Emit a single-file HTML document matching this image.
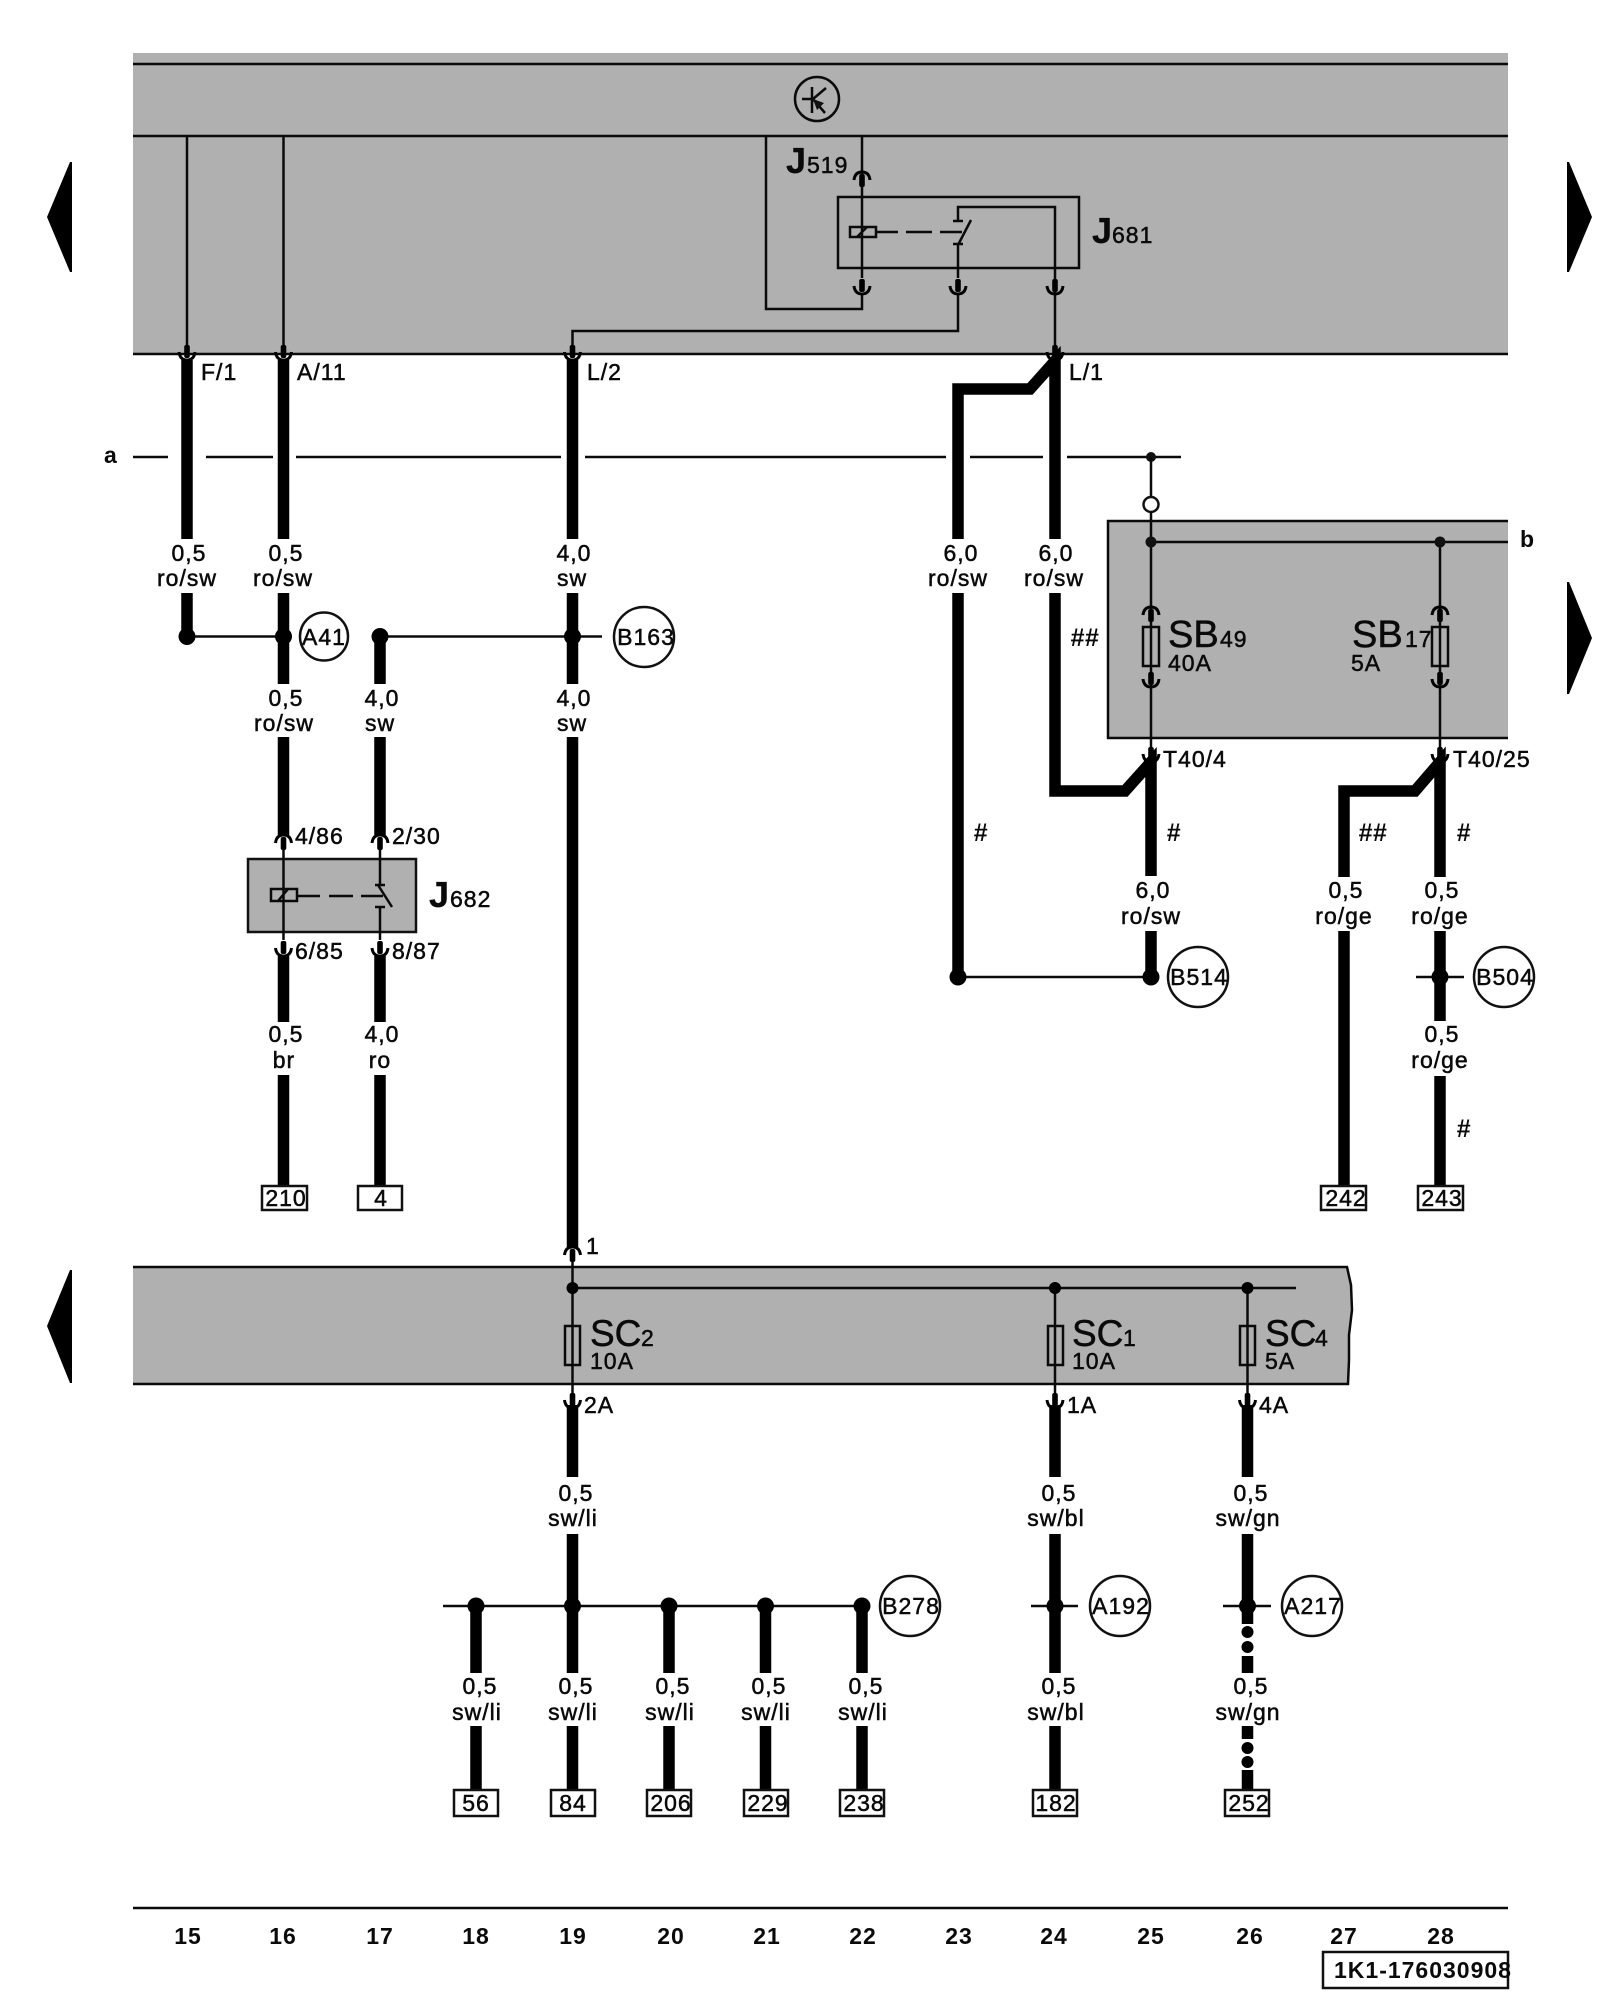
<!DOCTYPE html>
<html><head><meta charset="utf-8"><style>
html,body{margin:0;padding:0;background:#fff}
svg{display:block}
text{font-family:"Liberation Sans",Arial,sans-serif;font-size:23px;fill:#0a0a0a;stroke:#0a0a0a;stroke-width:.5;letter-spacing:1px}
.m{text-anchor:middle}
.b{font-weight:bold;stroke-width:0}
.big{font-size:38px;letter-spacing:0;stroke-width:.5}
.j{font-size:36px;font-weight:bold;letter-spacing:0;stroke-width:.3}
.t{fill:none;stroke:#0a0a0a;stroke-width:2.5}
.w{fill:none;stroke:#000;stroke-width:11.5}
.g{fill:#b0b0b0;stroke:none}
.box{fill:#fff;stroke:#111;stroke-width:2.5}
.c{fill:none;stroke:#111;stroke-width:2.5}
.h{font-size:25px;font-weight:bold;stroke-width:0;letter-spacing:.5px}
</style></head><body>
<svg width="1600" height="2000" viewBox="0 0 1600 2000" xmlns="http://www.w3.org/2000/svg">
<defs>
<g id="up"><path d="M-8 8Q-7 0 0 0Q7 0 8 8" fill="none" stroke="#000" stroke-width="3"/><rect x="-2.8" y="2" width="5.6" height="13" rx="2" fill="#000"/></g>
<g id="dn"><path d="M-8 -8Q-7 0 0 0Q7 0 8 -8" fill="none" stroke="#000" stroke-width="3"/><rect x="-2.8" y="-15" width="5.6" height="13" rx="2" fill="#000"/></g>
</defs>
<rect width="1600" height="2000" fill="#fff"/>

<!-- gray bands -->
<rect class="g" x="133" y="53" width="1375" height="301"/>
<path class="t" d="M133 64H1508M133 136H1508M133 354H1508"/>
<path d="M1108 521H1508V738H1108Z" class="g"/>
<path class="t" d="M1508 521H1108V738H1508"/>
<path d="M133 1267H1347L1351 1285L1352 1310L1349 1335L1349 1360L1348 1384H133Z" class="g"/>
<path class="t" d="M133 1267H1347L1351 1285L1352 1310L1349 1335L1349 1360L1348 1384H133"/>

<!-- nav arrows -->
<path d="M47 217L70 162H72V272H70Z" fill="#000"/>
<path d="M1592 217L1569 162H1567V272H1569Z" fill="#000"/>
<path d="M1592 638L1569 582H1567V694H1569Z" fill="#000"/>
<path d="M47 1326L70 1270H72V1383H70Z" fill="#000"/>

<!-- ground symbol -->
<circle class="t" cx="817" cy="99" r="22"/>
<path class="t" d="M802 99H813M812 87V113M813 99L826 88M813 99L825 113"/>
<path d="M813 99L824 103L817 110Z" fill="#111"/>

<!-- thin wiring top -->
<path class="t" d="M187 136V348M283.5 136V348"/>
<path class="t" d="M862 136V278M862 294V309H766V136"/>
<path class="t" d="M572.5 350V331H958V294M958 278V244M953 244H963M958 245L971 220M953 221H963M958 221V207H1055V350"/>
<rect class="t" x="838" y="197" width="241" height="71"/>
<rect class="t" x="850" y="227" width="26" height="10"/>
<path class="t" d="M857 237L867 227M876 232H898M906 232H932M940 232H962"/>
<use href="#up" x="862" y="172"/><use href="#dn" x="862" y="294"/><use href="#dn" x="958" y="294"/><use href="#dn" x="1055" y="294"/>
<use href="#dn" x="187" y="360"/><use href="#dn" x="283.5" y="360"/><use href="#dn" x="572.5" y="360"/><use href="#dn" x="1055" y="360"/>
<text class="j" x="786" y="173">J</text><text x="807" y="173">519</text>
<text class="j" x="1092" y="243">J</text><text x="1112" y="243">681</text>
<text x="201" y="380">F/1</text><text x="297" y="380">A/11</text><text x="587" y="380">L/2</text><text x="1069" y="380">L/1</text>

<!-- a line -->
<text class="b" x="104" y="463">a</text>
<path class="t" d="M133 457H168M206 457H273M296 457H561M585 457H946M970 457H1043M1067 457H1181"/>
<circle cx="1151" cy="457" r="5" fill="#111"/>
<path class="t" d="M1151 457V497"/>
<circle cx="1151" cy="504.5" r="7.5" fill="#fff" stroke="#111" stroke-width="2.5"/>

<!-- SB box -->
<path class="t" d="M1151 512V748M1440 542V748M1151 542H1508"/>
<circle cx="1151" cy="542" r="5.5" fill="#111"/><circle cx="1440" cy="542" r="5.5" fill="#111"/>
<rect class="t" x="1143" y="627" width="16" height="39"/><rect class="t" x="1432" y="627" width="16" height="39"/>
<use href="#up" x="1151" y="607"/><use href="#dn" x="1151" y="687"/><use href="#up" x="1440" y="607"/><use href="#dn" x="1440" y="687"/>
<use href="#dn" x="1151" y="762"/><use href="#dn" x="1440" y="762"/>
<text class="big" x="1168" y="647">SB</text><text x="1220" y="647">49</text><text x="1168" y="671">40A</text>
<text class="big" x="1352" y="647">SB</text><text x="1405" y="647">17</text><text x="1351" y="671">5A</text>
<text class="b" x="1520" y="547">b</text>
<text x="1163" y="767">T40/4</text><text x="1453" y="767">T40/25</text>

<!-- thick wires top -->
<path class="w" d="M187 360V539M187 593V636"/>
<path class="w" d="M283.5 360V539M283.5 593V684M283.5 737V835"/>
<path class="w" d="M380 636V684M380 737V835"/>
<path class="w" d="M572.5 360V539M572.5 593V684M572.5 737V1247"/>
<path class="w" d="M958 539V389H1030L1055 361V539"/>
<path class="w" d="M958 593V977"/>
<path class="w" d="M1055 593V791H1125L1151 762V876"/>
<path class="w" d="M1151 931V977"/>
<path class="w" d="M1344 877V791H1415L1440 762V877"/>
<path class="w" d="M1344 931V1186"/>
<path class="w" d="M1440 931V1021M1440 1076V1186"/>
<path class="w" d="M283.5 956V1022M283.5 1075V1186M380 956V1022M380 1075V1186"/>

<!-- junctions -->
<path class="t" d="M187 636.5H283.5M380 636.5H602M958 977H1151M1416 977H1464"/>
<g fill="#000"><circle cx="187" cy="636.5" r="8.5"/><circle cx="283.5" cy="636.5" r="8.5"/><circle cx="380" cy="636.5" r="8.5"/><circle cx="572.5" cy="636.5" r="8.5"/><circle cx="958" cy="977" r="8.5"/><circle cx="1151" cy="977" r="8.5"/><circle cx="1440" cy="977" r="8.5"/></g>
<circle class="c" cx="324" cy="636.5" r="24"/><text class="m" x="324" y="645">A41</text>
<circle class="c" cx="644" cy="637" r="30"/><text class="m" x="646" y="645">B163</text>
<circle class="c" cx="1198" cy="977" r="30"/><text class="m" x="1199" y="985">B514</text>
<circle class="c" cx="1504" cy="977" r="30"/><text class="m" x="1505" y="985">B504</text>

<!-- J682 -->
<rect x="248" y="859" width="168" height="73" fill="#b0b0b0" stroke="#111" stroke-width="2.5"/>
<path class="t" d="M283.5 849V940M380 849V885M380 907V940"/>
<rect class="t" x="271" y="889" width="26" height="12"/>
<path class="t" d="M278 901L288 889M297 896H320M329 896H353M361 896H383M375 885H385M378 885L392 907M375 907H385"/>
<use href="#up" x="283.5" y="835"/><use href="#up" x="380" y="835"/><use href="#dn" x="283.5" y="956"/><use href="#dn" x="380" y="956"/>
<text class="j" x="429" y="907">J</text><text x="450" y="907">682</text>
<text x="295" y="844">4/86</text><text x="392" y="844">2/30</text><text x="295" y="959">6/85</text><text x="392" y="959">8/87</text>

<!-- wire labels upper -->
<text class="m" x="189" y="561">0,5</text><text class="m" x="187" y="586">ro/sw</text>
<text class="m" x="286" y="561">0,5</text><text class="m" x="283" y="586">ro/sw</text>
<text class="m" x="574" y="561">4,0</text><text class="m" x="572" y="586">sw</text>
<text class="m" x="961" y="561">6,0</text><text class="m" x="958" y="586">ro/sw</text>
<text class="m" x="1056" y="561">6,0</text><text class="m" x="1054" y="586">ro/sw</text>
<text class="m" x="286" y="706">0,5</text><text class="m" x="284" y="731">ro/sw</text>
<text class="m" x="382" y="706">4,0</text><text class="m" x="380" y="731">sw</text>
<text class="m" x="574" y="706">4,0</text><text class="m" x="572" y="731">sw</text>
<text class="m" x="1153" y="898">6,0</text><text class="m" x="1151" y="924">ro/sw</text>
<text class="m" x="1346" y="898">0,5</text><text class="m" x="1344" y="924">ro/ge</text>
<text class="m" x="1442" y="898">0,5</text><text class="m" x="1440" y="924">ro/ge</text>
<text class="m" x="1442" y="1042">0,5</text><text class="m" x="1440" y="1068">ro/ge</text>
<text class="m" x="286" y="1042">0,5</text><text class="m" x="284" y="1068">br</text>
<text class="m" x="382" y="1042">4,0</text><text class="m" x="380" y="1068">ro</text>
<text class="h m" x="1085" y="646">##</text>
<text class="h m" x="981" y="841">#</text><text class="h m" x="1174" y="841">#</text>
<text class="h m" x="1373" y="841">##</text><text class="h m" x="1464" y="841">#</text><text class="h m" x="1464" y="1137">#</text>

<!-- boxes mid -->
<rect class="box" x="262" y="1186" width="45" height="24"/><text class="m" x="286" y="1206">210</text>
<rect class="box" x="358" y="1186" width="44" height="24"/><text class="m" x="381" y="1206">4</text>
<rect class="box" x="1321" y="1186" width="45" height="24"/><text class="m" x="1346" y="1206">242</text>
<rect class="box" x="1418" y="1186" width="45" height="24"/><text class="m" x="1442" y="1206">243</text>

<!-- lower band -->
<path class="t" d="M572.5 1260V1394M1055 1288V1394M1247.5 1288V1394M572.5 1288H1296"/>
<g fill="#000"><circle cx="572.5" cy="1288" r="6"/><circle cx="1055" cy="1288" r="6"/><circle cx="1247.5" cy="1288" r="6"/></g>
<rect class="t" x="565" y="1326" width="15" height="39"/><rect class="t" x="1048" y="1326" width="15" height="39"/><rect class="t" x="1240" y="1326" width="15" height="39"/>
<use href="#up" x="572.5" y="1247"/><use href="#dn" x="572.5" y="1408"/><use href="#dn" x="1055" y="1408"/><use href="#dn" x="1247.5" y="1408"/>
<text x="586" y="1254">1</text>
<text class="big" style="font-size:37px" x="590" y="1346">SC</text><text x="641" y="1346">2</text><text x="590" y="1369">10A</text>
<text class="big" style="font-size:37px" x="1072" y="1346">SC</text><text x="1123" y="1346">1</text><text x="1072" y="1369">10A</text>
<text class="big" style="font-size:37px" x="1265" y="1346">SC</text><text x="1315" y="1346">4</text><text x="1265" y="1369">5A</text>
<text x="584" y="1413">2A</text><text x="1067" y="1413">1A</text><text x="1259" y="1413">4A</text>

<!-- lower wires -->
<path class="w" d="M572.5 1405V1477M572.5 1534V1673M572.5 1726V1790"/>
<path class="w" d="M1055 1405V1477M1055 1534V1673M1055 1726V1790"/>
<path class="w" d="M1247.5 1405V1477M1247.5 1534V1624M1247.5 1656V1673M1247.5 1726V1739M1247.5 1770V1790"/>
<g fill="#000"><circle cx="1247.5" cy="1632" r="6"/><circle cx="1247.5" cy="1647" r="6"/><circle cx="1247.5" cy="1748" r="6"/><circle cx="1247.5" cy="1762" r="6"/></g>
<path class="w" d="M476 1606V1673M476 1726V1790M669 1606V1673M669 1726V1790M765.5 1606V1673M765.5 1726V1790M862 1606V1673M862 1726V1790"/>
<path class="t" d="M443 1606H862M1031 1606H1078M1223 1606H1271"/>
<g fill="#000"><circle cx="476" cy="1606" r="8.5"/><circle cx="572.5" cy="1606" r="8.5"/><circle cx="669" cy="1606" r="8.5"/><circle cx="765.5" cy="1606" r="8.5"/><circle cx="862" cy="1606" r="8.5"/><circle cx="1055" cy="1606" r="8.5"/><circle cx="1247.5" cy="1606" r="8.5"/></g>
<circle class="c" cx="910" cy="1606" r="30"/><text class="m" x="911" y="1614">B278</text>
<circle class="c" cx="1120" cy="1606" r="30"/><text class="m" x="1121" y="1614">A192</text>
<circle class="c" cx="1312" cy="1606" r="30"/><text class="m" x="1313" y="1614">A217</text>

<text class="m" x="576" y="1501">0,5</text><text class="m" x="573" y="1526">sw/li</text>
<text class="m" x="1059" y="1501">0,5</text><text class="m" x="1056" y="1526">sw/bl</text>
<text class="m" x="1251" y="1501">0,5</text><text class="m" x="1248" y="1526">sw/gn</text>
<text class="m" x="480" y="1694">0,5</text><text class="m" x="477" y="1720">sw/li</text>
<text class="m" x="576" y="1694">0,5</text><text class="m" x="573" y="1720">sw/li</text>
<text class="m" x="673" y="1694">0,5</text><text class="m" x="670" y="1720">sw/li</text>
<text class="m" x="769" y="1694">0,5</text><text class="m" x="766" y="1720">sw/li</text>
<text class="m" x="866" y="1694">0,5</text><text class="m" x="863" y="1720">sw/li</text>
<text class="m" x="1059" y="1694">0,5</text><text class="m" x="1056" y="1720">sw/bl</text>
<text class="m" x="1251" y="1694">0,5</text><text class="m" x="1248" y="1720">sw/gn</text>

<rect class="box" x="454" y="1790" width="44" height="26"/><text class="m" x="476" y="1811">56</text>
<rect class="box" x="551" y="1790" width="44" height="26"/><text class="m" x="573" y="1811">84</text>
<rect class="box" x="647" y="1790" width="44" height="26"/><text class="m" x="671" y="1811">206</text>
<rect class="box" x="744" y="1790" width="44" height="26"/><text class="m" x="768" y="1811">229</text>
<rect class="box" x="840" y="1790" width="44" height="26"/><text class="m" x="864" y="1811">238</text>
<rect class="box" x="1033" y="1790" width="44" height="26"/><text class="m" x="1056" y="1811">182</text>
<rect class="box" x="1225" y="1790" width="44" height="26"/><text class="m" x="1249" y="1811">252</text>

<!-- footer -->
<path class="t" d="M133 1908H1508"/>
<text class="m b" x="188" y="1944">15</text><text class="m b" x="283" y="1944">16</text><text class="m b" x="380" y="1944">17</text><text class="m b" x="476" y="1944">18</text><text class="m b" x="573" y="1944">19</text><text class="m b" x="671" y="1944">20</text><text class="m b" x="767" y="1944">21</text><text class="m b" x="863" y="1944">22</text><text class="m b" x="959" y="1944">23</text><text class="m b" x="1054" y="1944">24</text><text class="m b" x="1151" y="1944">25</text><text class="m b" x="1250" y="1944">26</text><text class="m b" x="1344" y="1944">27</text><text class="m b" x="1441" y="1944">28</text>
<rect class="box" x="1323" y="1952" width="185" height="36"/>
<text class="b" x="1334" y="1978">1K1-176030908</text>
</svg>
</body></html>
